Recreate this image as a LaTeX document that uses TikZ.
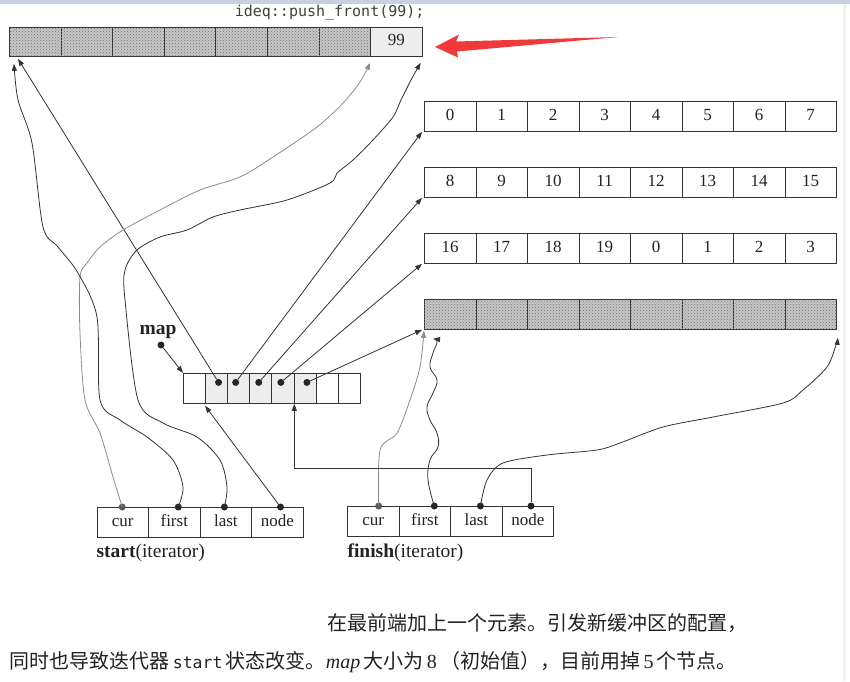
\documentclass[tikz,border=0pt]{standalone}
\usepackage{fontspec}
\setmainfont{Liberation Serif}
\setmonofont{DejaVu Sans Mono}
\newfontfamily\cjk{Noto Sans CJK SC}
\usepackage{tikz}
\usetikzlibrary{arrows.meta,patterns}
\definecolor{ink}{HTML}{222222}
\definecolor{wire}{HTML}{333333}
\definecolor{pale}{HTML}{8C8C8C}
\definecolor{bar}{HTML}{C9D1E1}
\definecolor{hint}{HTML}{F03A3A}
\tikzset{
  cell/.style={draw=wire,line width=0.8pt,minimum height=30pt,inner sep=0pt,
    text height=11.5pt,text depth=3.5pt,
    anchor=north west,text=ink,font=\fontsize{17}{17}\selectfont},
  topcell/.style={cell,minimum width=51.6pt,minimum height=29pt},
  bufcell/.style={cell,minimum width=51.5pt},
  mapcell/.style={cell,minimum width=22.1pt},
  field/.style={cell,minimum width=51.6pt,minimum height=29.5pt},
  hatch/.style={fill=black!22,postaction={pattern=crosshatch dots,pattern color=black!55}},
  used/.style={fill=black!7},
  ptr/.style={-{Triangle[length=7pt,width=5pt]},line width=0.8pt,draw=wire},
  faint/.style={ptr,draw=pale},
  dot/.style={circle,fill=black!85,inner sep=0pt,minimum size=7pt},
  caption/.style={text=ink,font=\fontsize{20}{20}\selectfont,anchor=west}
}
\begin{document}
\begin{tikzpicture}[x=1pt,y=-1pt]
  \useasboundingbox (0,0) rectangle (850,681);
  \fill[white] (0,0) rectangle (850,681);
  \fill[bar] (0,0) rectangle (850,4);
  \fill[black!6] (843,4) rectangle (846,681);

  % new buffer with the front element
  \node[anchor=east,text=black!75,font=\ttfamily\fontsize{15}{15}\selectfont] (code) at (428,13) {ideq::push\_front(99);};
  \foreach \i in {0,...,6}
    \node[topcell,hatch] (top\i) at ({9+51.6*\i},27) {};
  \node[topcell,fill=black!7] (top7) at ({9+51.6*7},27) {99};
  \fill[hint] (435,47) -- (459,34.5) -- (456,41.5) -- (618,37) -- (457,51.5) -- (458,57.5) -- cycle;

  % the older buffers
  \foreach \v [count=\i from 0] in {0,...,7}
    \node[bufcell] (ra\i) at ({424+51.5*\i},101) {\v};
  \foreach \v [count=\i from 0] in {8,...,15}
    \node[bufcell] (rb\i) at ({424+51.5*\i},167) {\v};
  \foreach \v [count=\i from 0] in {16,17,18,19,0,1,2,3}
    \node[bufcell] (rc\i) at ({424+51.5*\i},233) {\v};
  \foreach \i in {0,...,7}
    \node[bufcell,hatch] (rd\i) at ({424+51.5*\i},299) {};

  % map
  \foreach \i in {0,...,7}
    \node[mapcell] (m\i) at ({183+22.1*\i},373) {};
  \foreach \i in {1,...,5}
    \node[mapcell,used] at ({183+22.1*\i},373) {};
  \node[text=ink,font=\bfseries\fontsize{19.5}{19.5}\selectfont] (maplbl) at (158,332) {map};
  \node[dot] (mapdot) at (161,345) {};
  \node[dot] (d1) at ([xshift=2pt,yshift=6pt]m1.center) {};
  \node[dot] (d2) at ([xshift=-3pt,yshift=6pt]m2.center) {};
  \node[dot] (d3) at ([xshift=-2pt,yshift=6pt]m3.center) {};
  \node[dot] (d4) at ([xshift=-2pt,yshift=6pt]m4.center) {};
  \node[dot] (d5) at ([xshift=2pt,yshift=6pt]m5.center) {};
  \draw[ptr] (mapdot) -- (m0.north west);
  \draw[ptr] (d1) -- ([xshift=9pt,yshift=-2pt]top0.south west);
  \draw[ptr] (d2) -- ([xshift=-2pt]ra0.south west);
  \draw[ptr] (d3) -- ([xshift=-2pt]rb0.south west);
  \draw[ptr] (d4) -- ([xshift=-2pt]rc0.south west);
  \draw[ptr] (d5) -- ([xshift=-2pt]rd0.south west);

  % iterators
  \foreach \f [count=\i from 0] in {cur,first,last,node}
    \node[field] (s\f) at ({96.5+51.6*\i},507) {\f};
  \foreach \f [count=\i from 0] in {cur,first,last,node}
    \node[field] (f\f) at ({347+51.6*\i},506) {\f};
  \node[caption,font=\fontsize{19.5}{19.5}\selectfont] (slbl) at (93,553) {\textbf{start}(iterator)};
  \node[caption,font=\fontsize{19.5}{19.5}\selectfont] (flbl) at (344,553) {\textbf{finish}(iterator)};

  \node[dot,fill=black!65] (sc) at ([xshift=-0.5pt]scur.north) {};
  \node[dot] (sf) at ([xshift=4pt]sfirst.north) {};
  \node[dot] (sl) at ([xshift=-1.5pt]slast.north) {};
  \node[dot] (sn) at ([xshift=3pt]snode.north) {};
  \node[dot,fill=black!65] (fc) at ([xshift=5.5pt]fcur.north) {};
  \node[dot] (ff) at ([xshift=9.5pt]ffirst.north) {};
  \node[dot] (fl) at ([xshift=4pt]flast.north) {};
  \node[dot] (fn) at ([xshift=3pt]fnode.north) {};

  % start points into the new buffer
  \draw[faint] plot[smooth] coordinates {(sc) (113,477) (100,433) (85,400) (80,333) (80,277) (87,263)
    (100,247) (123,230) (160,210) (200,190) (240,177) (273,157) (317,127) (343,103) (360,82)
    ([yshift=-6pt]top7.south west)};
  \draw[ptr] plot[smooth] coordinates {(sf) (183,487) (173,460) (147,437) (120,420) (100,400) (97,317)
    (78,273) (58,247) (43,227) (32,143) (18,100) ([xshift=5pt,yshift=-7pt]top0.south west)};
  \draw[ptr] plot[smooth] coordinates {(sl) (227,487) (220,460) (197,437) (163,423) (138,400) (125,300)
    (125,270) (137,250) (160,237) (187,230) (213,217) (240,210) (287,200) (330,183) (337,173)
    (353,160) (373,140) (393,117) (401,100) (411,80) ([xshift=-2pt,yshift=-6pt]top7.south east)};
  \draw[ptr] (sn) -- ([yshift=-2pt]m1.south west);

  % finish stays in the last buffer
  \draw[faint] plot[smooth] coordinates {(fc) (380,450) (397,433) (410,400) (420,367) ([yshift=-1pt]rd0.south west)};
  \draw[ptr] plot[smooth,tension=0.7] coordinates {(ff) (428,480) (430,460) (438,447) (437,433) (430,420)
    (427,407) (433,393) (437,380) (430,367) (433,353) (437,342) ([xshift=9pt,yshift=-9pt]rd0.south west)};
  \draw[ptr] plot[smooth] coordinates {(fl) (487,480) (503,463) (547,455) (597,450) (620,443) (663,427)
    (713,417) (783,403) (803,390) (827,367) (836,345) ([xshift=1pt,yshift=-8pt]rd7.south east)};
  \draw[ptr] (fn) -- (fn |- 0,468) -| (m4.south east);

  % caption
  \node[caption] (cap1) at (324,623) {\cjk 在最前端加上一个元素。引发新缓冲区的配置，};
  \node[caption] (cap2) at (6,662) {{\cjk 同时也导致迭代器}\,{\ttfamily\fontsize{16.5}{16.5}\selectfont start}\,{\cjk 状态改变。}\textit{map}\,{\cjk 大小为}\,8\,{\cjk （初始值），目前用掉}\,5\,{\cjk 个节点。}};
\end{tikzpicture}
\end{document}
